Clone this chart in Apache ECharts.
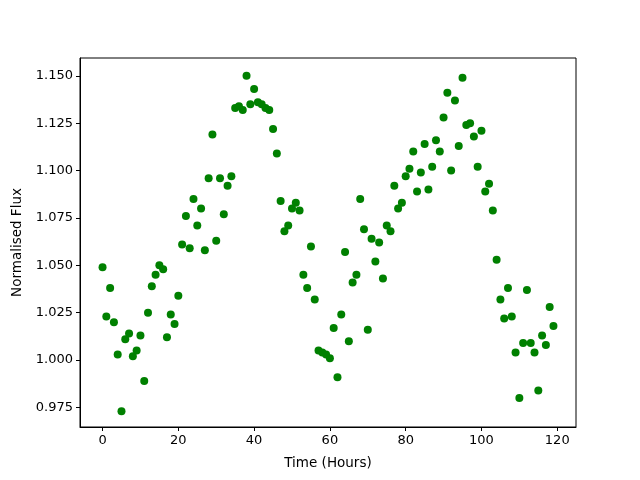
<!DOCTYPE html>
<html>
<head>
<meta charset="utf-8">
<script src="https://cdn.jsdelivr.net/npm/echarts@6/dist/echarts.min.js"></script>
<style>
  html, body { margin: 0; padding: 0; background: #fff; }
  #chart { width: 640px; height: 480px; }
</style>
</head>
<body>
<div id="chart"></div>
<script>
// hourly flux readings, hour 0..119
var hours = [];
for (var i = 0; i < 120; i++) hours.push(i);

var flux = [
  1.049, 1.023, 1.038, 1.020, 1.003, 0.973, 1.011, 1.014, 1.002, 1.005,
  1.013, 0.989, 1.025, 1.039, 1.045, 1.050, 1.048, 1.012, 1.024, 1.019,
  1.034, 1.061, 1.076, 1.059, 1.085, 1.071, 1.080, 1.058, 1.096, 1.119,
  1.063, 1.096, 1.077, 1.092, 1.097, 1.133, 1.134, 1.132, 1.150, 1.135,
  1.143, 1.136, 1.135, 1.133, 1.132, 1.122, 1.109, 1.084, 1.068, 1.071,
  1.080, 1.083, 1.079, 1.045, 1.038, 1.060, 1.032, 1.005, 1.004, 1.003,
  1.001, 1.017, 0.991, 1.024, 1.057, 1.010, 1.041, 1.045, 1.085, 1.069,
  1.016, 1.064, 1.052, 1.062, 1.043, 1.071, 1.068, 1.092, 1.080, 1.083,
  1.097, 1.101, 1.110, 1.089, 1.099, 1.114, 1.090, 1.102, 1.116, 1.110,
  1.128, 1.141, 1.100, 1.137, 1.113, 1.149, 1.124, 1.125, 1.118, 1.102,
  1.121, 1.089, 1.093, 1.079, 1.053, 1.032, 1.022, 1.038, 1.023, 1.004,
  0.980, 1.009, 1.037, 1.009, 1.004, 0.984, 1.013, 1.008, 1.028, 1.018
];

var xTicks = [0, 20, 40, 60, 80, 100, 120];
var yTicks = [0.975, 1.000, 1.025, 1.050, 1.075, 1.100, 1.125, 1.150];

var points = hours.map(function (h, i) { return [h, flux[i]]; });

var font = 'DejaVu Sans';
var chart = echarts.init(document.getElementById('chart'));
chart.setOption({
  animation: false,
  backgroundColor: '#fff',
  grid: {
    left: 80, right: 64, top: 58, bottom: 53,
    show: true, borderColor: '#000', borderWidth: 1
  },
  xAxis: {
    type: 'value',
    min: -5.95, max: 124.95,
    name: 'Time (Hours)',
    nameLocation: 'middle',
    nameGap: 29,
    nameTextStyle: { color: '#000', fontSize: 13.5, fontFamily: font },
    axisLine: { show: true, onZero: false, lineStyle: { color: '#000', width: 1 } },
    axisTick: { show: true, length: 4, customValues: xTicks, lineStyle: { color: '#000' } },
    axisLabel: { customValues: xTicks, margin: 7, color: '#000', fontSize: 13, fontFamily: font },
    splitLine: { show: false }
  },
  yAxis: {
    type: 'value',
    min: 0.9647, max: 1.1594,
    name: 'Normalised Flux',
    nameLocation: 'middle',
    nameGap: 56,
    nameTextStyle: { color: '#000', fontSize: 13.5, fontFamily: font },
    axisLine: { show: true, onZero: false, lineStyle: { color: '#000', width: 1 } },
    axisTick: { show: true, length: 4, customValues: yTicks, lineStyle: { color: '#000' } },
    axisLabel: {
      customValues: yTicks, margin: 7, color: '#000', fontSize: 13, fontFamily: font,
      formatter: function (v) { return v.toFixed(3); }
    },
    splitLine: { show: false }
  },
  series: [{
    type: 'scatter',
    data: points,
    symbol: 'circle',
    symbolSize: 8,
    itemStyle: { color: '#008000', opacity: 1 }
  }]
});
</script>
</body>
</html>
